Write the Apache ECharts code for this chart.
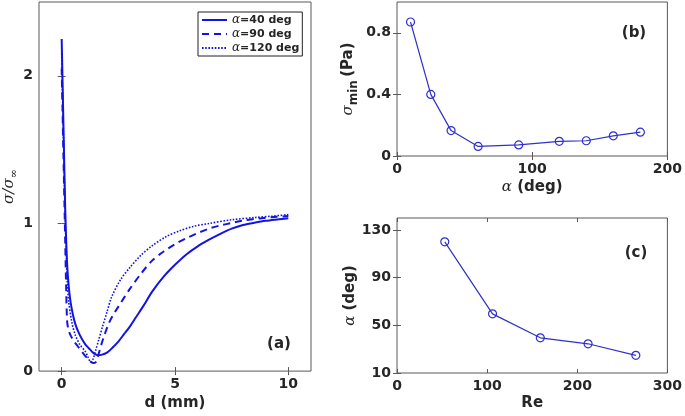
<!DOCTYPE html>
<html>
<head>
<meta charset="utf-8">
<script src="https://cdn.jsdelivr.net/npm/echarts@6/dist/echarts.min.js"></script>
<style>html,body{margin:0;padding:0;background:#fff;}#c{width:685px;height:416px;}</style>
</head>
<body>
<div id="c"></div>
<script>
// ---- Panel (a): sigma/sigma_inf vs d (mm) ----
const d40 = [0, 0.04, 0.08, 0.12, 0.16, 0.2, 0.25, 0.32, 0.4, 0.5, 0.6, 0.75, 0.9, 1.05, 1.2, 1.35, 1.5, 1.6, 1.75, 2.0, 2.25, 2.5, 2.75, 3.0, 3.3, 3.6, 4.0, 4.5, 5.0, 5.5, 6.0, 6.5, 7.0, 7.5, 8.0, 8.5, 9.0, 9.5, 10];
const s40 = [2.25, 1.95, 1.65, 1.35, 1.08, 0.88, 0.7, 0.56, 0.46, 0.38, 0.32, 0.26, 0.215, 0.18, 0.155, 0.13, 0.113, 0.108, 0.11, 0.125, 0.16, 0.2, 0.25, 0.3, 0.37, 0.44, 0.54, 0.64, 0.72, 0.79, 0.845, 0.89, 0.93, 0.965, 0.99, 1.005, 1.018, 1.027, 1.035];
const d90 = [0, 0.04, 0.08, 0.12, 0.16, 0.2, 0.24, 0.3, 0.4, 0.55, 0.7, 0.85, 1.0, 1.15, 1.3, 1.4, 1.5, 1.6, 1.75, 1.9, 2.1, 2.35, 2.6, 3.0, 3.5, 4.0, 4.5, 5.0, 5.5, 6.0, 6.5, 7.0, 7.5, 8.0, 8.5, 9.0, 9.5, 10];
const s90 = [2.05, 1.75, 1.45, 1.15, 0.85, 0.55, 0.34, 0.28, 0.24, 0.2, 0.17, 0.14, 0.11, 0.085, 0.062, 0.055, 0.06, 0.1, 0.18, 0.25, 0.33, 0.4, 0.46, 0.555, 0.66, 0.75, 0.81, 0.86, 0.9, 0.935, 0.965, 0.987, 1.003, 1.02, 1.03, 1.038, 1.045, 1.05];
const d120 = [0, 0.05, 0.1, 0.15, 0.2, 0.25, 0.31, 0.45, 0.6, 0.8, 1.04, 1.18, 1.28, 1.38, 1.5, 1.65, 1.8, 2.0, 2.2, 2.6, 3.0, 3.5, 4.0, 4.6, 5.2, 5.8, 6.5, 7.5, 8.5, 9.3, 10];
const s120 = [2.15, 1.8, 1.45, 1.1, 0.8, 0.6, 0.47, 0.33, 0.245, 0.18, 0.134, 0.09, 0.06, 0.08, 0.14, 0.22, 0.3, 0.4, 0.5, 0.62, 0.7, 0.785, 0.85, 0.91, 0.95, 0.98, 1.0, 1.025, 1.04, 1.05, 1.06];
const legendNames = ['α=40 deg', 'α=90 deg', 'α=120 deg'];

// ---- Panel (b): sigma_min vs alpha ----
const alphaB = [10, 25, 40, 60, 90, 120, 140, 160, 180];
const sigmaMinB = [0.87, 0.40, 0.165, 0.062, 0.072, 0.095, 0.099, 0.131, 0.155];

// ---- Panel (c): alpha vs Re ----
const reC = [53, 106, 159, 212, 265];
const alphaC = [120, 59.6, 39.5, 34.5, 24.8];

// ---- tick labels ----
const xTicksA = [0, 5, 10], yTicksA = [0, 1, 2];
const xTicksB = [0, 100, 200], yTicksB = [0, 0.4, 0.8];
const xTicksC = [0, 100, 200, 300], yTicksC = [10, 50, 90, 130];

const zip = (a, b) => a.map((v, i) => [v, b[i]]);
const FONT = 'DejaVu Sans';
const AXC = '#595959';
const TXT = '#262626';
const BLUE_A = '#1414e0';
const BLUE_B = '#3030cc';

function mkAxis(kind, gi, min, max, ticks, main, extra) {
  const ax = {
    type: 'value', gridIndex: gi, min: min, max: max,
    position: main ? (kind === 'x' ? 'bottom' : 'left') : (kind === 'x' ? 'top' : 'right'),
    axisLine: { show: false },
    axisTick: { show: true, inside: true, length: 4, lineStyle: { color: AXC, width: 1 }, customValues: ticks },
    axisLabel: { show: main, customValues: ticks, color: TXT, fontFamily: FONT, fontWeight: 'bold', fontSize: 14, margin: 6 },
    splitLine: { show: false }
  };
  return Object.assign(ax, extra || {});
}

const italic = { fontFamily: 'DejaVu Serif', fontStyle: 'italic', fontWeight: 'normal', color: TXT };

const option = {
  animation: false,
  backgroundColor: '#fff',
  grid: [
    { left: 39, top: 2, width: 272, height: 371, show: true, borderColor: AXC, borderWidth: 1, backgroundColor: 'transparent' },
    { left: 397, top: 2, width: 272, height: 154, show: true, borderColor: AXC, borderWidth: 1, backgroundColor: 'transparent' },
    { left: 397, top: 218, width: 272, height: 155, show: true, borderColor: AXC, borderWidth: 1, backgroundColor: 'transparent' }
  ],
  xAxis: [
    mkAxis('x', 0, -1, 11, xTicksA, true, { name: 'd (mm)', nameLocation: 'middle', nameGap: 23, nameTextStyle: { color: TXT, fontFamily: FONT, fontWeight: 'bold', fontSize: 15 } }),
    mkAxis('x', 1, 0, 200, xTicksB, true, { name: '{a|α} (deg)', nameLocation: 'middle', nameGap: 24, nameTextStyle: { color: TXT, fontFamily: FONT, fontWeight: 'bold', fontSize: 15, rich: { a: Object.assign({ fontSize: 15 }, italic) } } }),
    mkAxis('x', 2, 0, 300, xTicksC, true, { name: 'Re', nameLocation: 'middle', nameGap: 23, nameTextStyle: { color: TXT, fontFamily: FONT, fontWeight: 'bold', fontSize: 15 } }),
    mkAxis('x', 0, -1, 11, xTicksA, false),
    mkAxis('x', 1, 0, 200, xTicksB, false),
    mkAxis('x', 2, 0, 300, xTicksC, false)
  ],
  yAxis: [
    mkAxis('y', 0, 0, 2.5, yTicksA, true, { name: '{s|σ/σ}{sub|∞}', nameLocation: 'middle', nameGap: 17, nameTextStyle: { rich: { s: Object.assign({ fontSize: 15 }, italic), sub: Object.assign({ fontSize: 11, padding: [9, 0, 0, 0] }, italic) } } }),
    mkAxis('y', 1, 0, 1.0, yTicksB, true, { name: '{s|σ}{sub|min} {n|(Pa)}', nameLocation: 'middle', nameGap: 37, nameTextStyle: { rich: { s: Object.assign({ fontSize: 15 }, italic), sub: { fontSize: 12, fontFamily: FONT, fontWeight: 'bold', color: TXT, padding: [12, 0, 0, 0] }, n: { fontSize: 15, fontFamily: FONT, fontWeight: 'bold', color: TXT } } } }),
    mkAxis('y', 2, 10, 140, yTicksC, true, { name: '{a|α} (deg)', nameLocation: 'middle', nameGap: 39, nameTextStyle: { color: TXT, fontFamily: FONT, fontWeight: 'bold', fontSize: 15, rich: { a: Object.assign({ fontSize: 15 }, italic) } } }),
    mkAxis('y', 0, 0, 2.5, yTicksA, false),
    mkAxis('y', 1, 0, 1.0, yTicksB, false),
    mkAxis('y', 2, 10, 140, yTicksC, false)
  ],
  legend: {
    left: 198, top: 12, orient: 'vertical',
    data: legendNames,
    backgroundColor: '#fff', borderColor: '#222', borderWidth: 1,
    padding: [2, 3, 2, 3], itemGap: 2, itemWidth: 25, itemHeight: 13,
    itemStyle: { opacity: 0, borderWidth: 0 },
    formatter: n => n.replace('α', '{a|α}'),
    textStyle: { color: TXT, fontFamily: FONT, fontWeight: 'bold', fontSize: 11, rich: { a: Object.assign({ fontSize: 12 }, italic) } }
  },
  series: [
    { name: legendNames[0], type: 'line', xAxisIndex: 0, yAxisIndex: 0, data: zip(d40, s40), symbol: 'none', smooth: 0.3, lineStyle: { color: BLUE_A, width: 2, type: 'solid' }, itemStyle: { color: BLUE_A } },
    { name: legendNames[1], type: 'line', xAxisIndex: 0, yAxisIndex: 0, data: zip(d90, s90), symbol: 'none', smooth: 0.3, lineStyle: { color: BLUE_A, width: 2, type: [7, 5] }, itemStyle: { color: BLUE_A } },
    { name: legendNames[2], type: 'line', xAxisIndex: 0, yAxisIndex: 0, data: zip(d120, s120), symbol: 'none', smooth: 0.3, lineStyle: { color: BLUE_A, width: 1.6, type: [1.6, 1.6] }, itemStyle: { color: BLUE_A } },
    { type: 'line', xAxisIndex: 1, yAxisIndex: 1, data: zip(alphaB, sigmaMinB), symbol: 'circle', symbolSize: 8, lineStyle: { color: BLUE_B, width: 1.2 }, itemStyle: { color: 'transparent', borderColor: BLUE_B, borderWidth: 1.2 } },
    { type: 'line', xAxisIndex: 2, yAxisIndex: 2, data: zip(reC, alphaC), symbol: 'circle', symbolSize: 8, lineStyle: { color: BLUE_B, width: 1.2 }, itemStyle: { color: 'transparent', borderColor: BLUE_B, borderWidth: 1.2 } }
  ],
  graphic: [
    { type: 'text', x: 279, y: 344, style: { text: '(a)', fill: TXT, font: 'bold 15px "DejaVu Sans"', align: 'center', verticalAlign: 'middle' } },
    { type: 'text', x: 634, y: 33, style: { text: '(b)', fill: TXT, font: 'bold 15px "DejaVu Sans"', align: 'center', verticalAlign: 'middle' } },
    { type: 'text', x: 636, y: 253, style: { text: '(c)', fill: TXT, font: 'bold 15px "DejaVu Sans"', align: 'center', verticalAlign: 'middle' } }
  ]
};

const chart = echarts.init(document.getElementById('c'), null, { renderer: 'canvas' });
chart.setOption(option);
</script>
</body>
</html>
